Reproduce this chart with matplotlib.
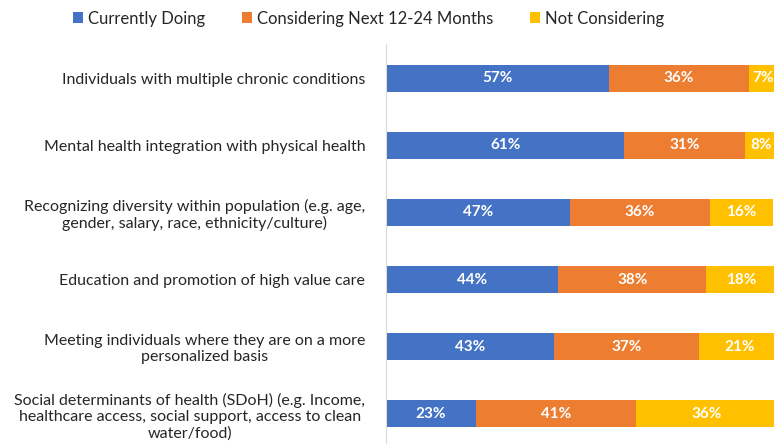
import numpy as np
import matplotlib.pyplot as plt

categories = [
    "Individuals with multiple chronic conditions",
    "Mental health integration with physical health",
    "Recognizing diversity within population (e.g. age,\ngender, salary, race, ethnicity/culture)",
    "Education and promotion of high value care",
    "Meeting individuals where they are on a more\npersonalized basis",
    "Social determinants of health (SDoH) (e.g. Income,\nhealthcare access, social support, access to clean\nwater/food)",
]
series = ["Currently Doing", "Considering Next 12-24 Months", "Not Considering"]
doing = [57, 61, 47, 44, 43, 23]
considering = [36, 31, 36, 38, 37, 41]
not_considering = [7, 8, 16, 18, 21, 36]
colors = ["#4472C4", "#ED7D31", "#FFC000"]

plt.rcParams['font.family'] = ['Lato', 'DejaVu Sans']

fig = plt.figure(figsize=(7.74, 4.44), dpi=100)
ax = fig.add_axes([386 / 774, -3.5 / 444, 1 - 386 / 774, 403 / 444])

y = np.arange(len(categories))
left = np.zeros(len(categories))
for name, vals, c in zip(series, [doing, considering, not_considering], colors):
    vals = np.array(vals)
    ax.barh(y, vals, left=left, height=0.4, color=c, label=name)
    for yi, l, v in zip(y, left, vals):
        ax.text(l + v / 2, yi, f"{v}%", ha='center', va='center',
                color='white', fontweight='bold', fontsize=11)
    left = left + vals

ax.set_xlim(0, 99.3)
ax.set_ylim(len(categories) - 0.5, -0.5)
ax.set_yticks(y)
ax.set_yticklabels(categories, fontsize=11.5, color='#262626', multialignment='center')
ax.tick_params(axis='y', length=0, pad=15)
ax.set_xticks([])
for s in ['top', 'right', 'bottom']:
    ax.spines[s].set_visible(False)
ax.spines['left'].set_color('#d9d9d9')

fig.legend(loc='upper left', bbox_to_anchor=(58 / 774, 1.01), ncol=3, frameon=False,
           fontsize=12, handlelength=0.6, handleheight=0.6, handletextpad=0.3,
           columnspacing=2.2, labelcolor='#262626')

fig.savefig("out.png", dpi=100)
